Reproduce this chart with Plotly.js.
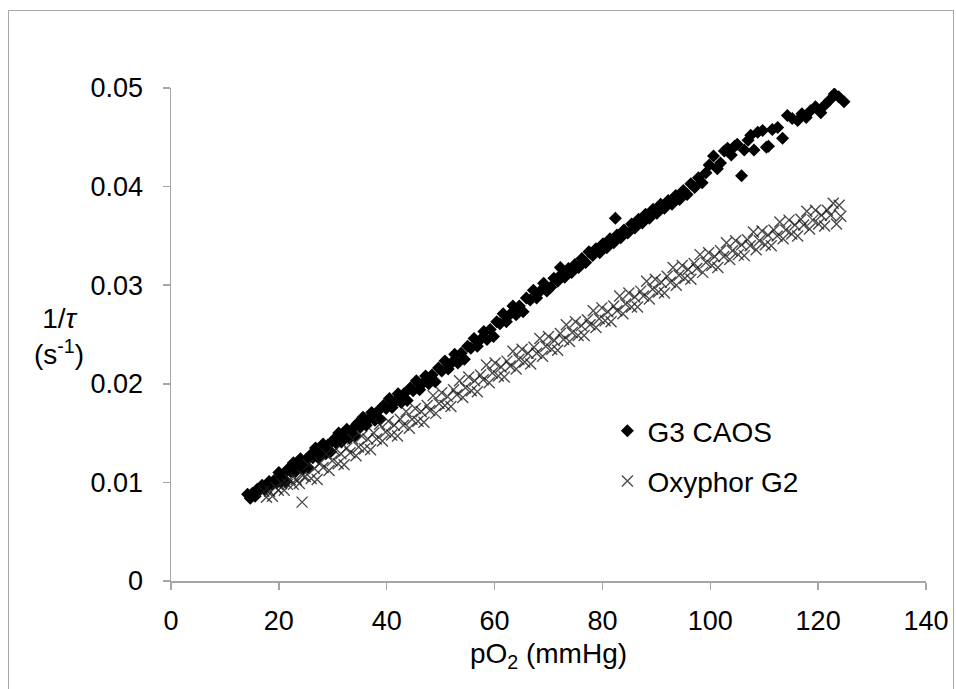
<!DOCTYPE html>
<html>
<head>
<meta charset="utf-8">
<script src="https://cdn.plot.ly/plotly-3.0.1.min.js"></script>
<style>
  html, body { margin: 0; padding: 0; background: #ffffff; overflow: hidden; }
  #chart { position: absolute; left: 0; top: 0; width: 956px; height: 689px; }
  #frame { position: absolute; left: 8px; top: 10px; width: 944px; height: 720px;
           border: 1.5px solid #a9a9a9; pointer-events: none; }
</style>
</head>
<body>
<div id="chart"></div>
<div id="frame"></div>
<script>
// ---- G3 CAOS (filled diamonds) ----
const g3X = [14.2,14.7,15.1,15.6,16.0,16.4,16.9,17.3,17.8,18.2,18.7,19.1,19.6,
  20.0,20.4,20.9,21.3,21.8,22.2,22.7,23.1,23.6,24.0,24.5,
  25.0,25.4,25.9,26.3,26.8,27.3,27.7,28.2,28.7,29.1,29.6,
  30.1,30.6,31.1,31.6,32.1,32.6,33.1,33.6,34.1,34.6,
  35.1,35.6,36.2,36.7,37.2,37.8,38.3,38.8,39.4,39.9,
  40.5,41.0,41.6,42.1,42.7,43.2,43.8,44.4,44.9,
  45.5,46.1,46.6,47.2,47.8,48.4,49.0,49.6,
  50.2,50.8,51.4,52.0,52.6,53.2,53.8,54.4,55.0,
  55.6,56.2,56.8,57.4,58.0,58.6,59.2,59.8,
  60.4,61.0,61.6,62.2,62.8,63.4,64.0,64.6,
  65.3,65.9,66.6,67.2,67.8,68.5,69.1,69.7,
  70.4,71.0,71.7,72.2,72.4,73.0,73.7,74.3,74.9,
  75.6,76.2,76.9,77.5,78.2,78.8,79.5,
  80.1,80.8,81.4,82.1,82.4,82.7,83.4,84.0,84.7,
  85.4,86.0,86.7,87.4,88.0,88.7,89.4,
  90.1,90.8,91.5,92.2,92.9,93.6,94.3,
  95.0,95.7,96.4,97.1,97.8,98.5,99.2,99.8,
  100.6,101.3,101.9,102.6,103.2,103.9,104.5,105.0,105.8,
  106.3,107.0,107.5,108.1,108.8,109.7,110.4,110.8,111.5,112.5,113.4,
  114.3,115.2,116.2,117.0,117.8,118.6,119.5,120.5,121.3,122.2,123.0,123.8,124.8];
const g3Y = [0.0088,0.0084,0.0089,0.0086,0.0093,0.0092,0.0097,0.0093,0.0097,0.0101,0.0098,0.0102,0.0100,
  0.0110,0.0100,0.0109,0.0101,0.0114,0.0111,0.0120,0.0111,0.0116,0.0124,0.0114,
  0.0123,0.0115,0.0128,0.0125,0.0135,0.0125,0.0131,0.0139,0.0129,0.0138,0.0131,
  0.0143,0.0140,0.0150,0.0141,0.0147,0.0154,0.0145,0.0154,0.0147,0.0160,
  0.0156,0.0166,0.0158,0.0164,0.0171,0.0163,0.0172,0.0164,0.0178,0.0175,
  0.0185,0.0176,0.0182,0.0190,0.0181,0.0190,0.0183,0.0196,0.0193,
  0.0203,0.0194,0.0200,0.0208,0.0200,0.0209,0.0202,0.0216,
  0.0213,0.0223,0.0215,0.0221,0.0230,0.0221,0.0231,0.0225,0.0238,
  0.0236,0.0246,0.0238,0.0245,0.0253,0.0245,0.0255,0.0248,
  0.0263,0.0261,0.0271,0.0263,0.0270,0.0279,0.0270,0.0279,
  0.0273,0.0287,0.0285,0.0295,0.0287,0.0294,0.0302,0.0294,
  0.0298,0.0307,0.0304,0.0318,0.0311,0.0308,0.0317,0.0313,0.0321,
  0.0318,0.0327,0.0323,0.0334,0.0330,0.0337,0.0333,
  0.0342,0.0338,0.0347,0.0343,0.0368,0.0351,0.0348,0.0356,0.0353,
  0.0362,0.0358,0.0367,0.0363,0.0372,0.0368,0.0377,
  0.0373,0.0382,0.0378,0.0386,0.0382,0.0391,0.0387,
  0.0396,0.0392,0.0403,0.0399,0.0409,0.0404,0.0414,0.0422,
  0.0431,0.0418,0.0424,0.0436,0.0439,0.0432,0.0441,0.0443,0.0411,
  0.0437,0.0447,0.0452,0.0437,0.0455,0.0457,0.0440,0.0441,0.0458,0.0460,0.0449,
  0.0472,0.0469,0.0467,0.0474,0.0470,0.0477,0.0481,0.0475,0.0483,0.0488,0.0494,0.0491,0.0486];

// ---- Oxyphor G2 (thin x markers) ----
const g2X = [17.2,17.7,18.3,18.8,19.4,19.9,
  20.5,21.0,21.6,22.1,22.7,23.2,23.8,24.3,24.4,24.9,
  25.5,26.0,26.6,27.1,27.7,28.2,28.8,29.3,29.9,
  30.4,31.0,31.5,32.1,32.6,33.2,33.7,34.3,34.8,
  35.4,35.9,36.5,37.0,37.6,38.1,38.7,39.2,39.8,
  40.3,40.9,41.4,42.0,42.5,43.1,43.6,44.2,44.7,
  45.3,45.8,46.4,46.9,47.5,48.0,48.6,49.1,49.7,
  50.2,50.8,51.3,51.9,52.4,53.0,53.5,54.1,54.6,
  55.2,55.7,56.3,56.8,57.4,57.9,58.5,59.0,59.6,
  60.1,60.7,61.2,61.8,62.3,62.9,63.4,64.0,64.5,
  65.1,65.6,66.2,66.7,67.3,67.8,68.4,68.9,69.5,
  70.0,70.6,71.1,71.7,72.2,72.8,73.3,73.9,74.4,
  75.0,75.5,76.1,76.6,77.2,77.7,78.3,78.8,79.4,
  79.9,80.5,81.0,81.6,82.1,82.7,83.2,83.8,84.3,84.9,
  85.4,86.0,86.5,87.1,87.6,88.2,88.7,89.3,89.8,
  90.4,90.9,91.5,92.0,92.6,93.1,93.7,94.2,94.8,
  95.3,95.9,96.4,97.0,97.5,98.1,98.6,99.2,99.7,
  100.3,100.8,101.4,101.9,102.5,103.0,103.6,104.1,104.7,
  105.2,105.8,106.3,106.9,107.4,108.0,108.5,109.1,109.6,
  110.2,110.7,111.3,111.8,112.4,112.9,113.5,114.0,114.6,
  115.1,115.7,116.2,116.8,117.3,117.9,118.4,119.0,119.5,
  120.1,120.6,121.2,121.7,122.3,122.8,123.4,123.9,124.2];
const g2Y = [0.0091,0.0085,0.0091,0.0086,0.0095,0.0092,
  0.0099,0.0092,0.0098,0.0103,0.0098,0.0103,0.0099,0.0080,0.0107,0.0106,
  0.0118,0.0104,0.0114,0.0103,0.0120,0.0115,0.0129,0.0112,0.0122,
  0.0132,0.0119,0.0129,0.0118,0.0135,0.0130,0.0144,0.0127,0.0136,
  0.0147,0.0134,0.0144,0.0133,0.0150,0.0144,0.0159,0.0142,0.0151,
  0.0162,0.0148,0.0158,0.0147,0.0164,0.0158,0.0172,0.0155,0.0164,
  0.0175,0.0162,0.0172,0.0161,0.0178,0.0173,0.0188,0.0170,0.0180,
  0.0191,0.0178,0.0187,0.0177,0.0194,0.0189,0.0203,0.0186,0.0196,
  0.0207,0.0193,0.0203,0.0192,0.0209,0.0204,0.0219,0.0201,0.0211,
  0.0221,0.0208,0.0217,0.0207,0.0223,0.0218,0.0233,0.0215,0.0225,
  0.0235,0.0222,0.0231,0.0220,0.0237,0.0231,0.0246,0.0228,0.0238,
  0.0248,0.0235,0.0244,0.0234,0.0251,0.0245,0.0260,0.0243,0.0252,
  0.0263,0.0249,0.0259,0.0249,0.0265,0.0260,0.0274,0.0257,0.0266,
  0.0277,0.0264,0.0273,0.0263,0.0279,0.0274,0.0289,0.0271,0.0281,0.0292,
  0.0278,0.0288,0.0278,0.0294,0.0289,0.0304,0.0286,0.0296,0.0306,
  0.0293,0.0303,0.0292,0.0309,0.0303,0.0318,0.0300,0.0310,0.0320,
  0.0307,0.0316,0.0306,0.0322,0.0317,0.0331,0.0313,0.0323,0.0333,
  0.0320,0.0329,0.0318,0.0335,0.0329,0.0343,0.0326,0.0335,0.0345,
  0.0331,0.0341,0.0330,0.0346,0.0340,0.0354,0.0336,0.0345,0.0355,
  0.0341,0.0351,0.0340,0.0356,0.0350,0.0364,0.0347,0.0356,0.0366,
  0.0352,0.0361,0.0350,0.0367,0.0361,0.0375,0.0357,0.0366,0.0376,
  0.0362,0.0371,0.0360,0.0376,0.0371,0.0383,0.0362,0.0381,0.0370];

const xTicks = [0, 20, 40, 60, 80, 100, 120, 140];
const yTicks = [0, 0.01, 0.02, 0.03, 0.04, 0.05];
const yTickText = ['0', '0.01', '0.02', '0.03', '0.04', '0.05'];

const FONT = 'Liberation Sans, Arial, Helvetica, sans-serif';
const AXIS_GRAY = '#a6a6a6';

const traces = [
  {
    x: g3X, y: g3Y, type: 'scatter', mode: 'markers', name: 'G3 CAOS',
    legendgroup: 'g3',
    marker: { symbol: 'diamond', size: 10, color: '#000000' }
  },
  {
    x: g2X, y: g2Y, type: 'scatter', mode: 'markers', name: 'Oxyphor G2',
    legendgroup: 'g2',
    marker: { symbol: 'x-thin-open', size: 11,
              line: { color: 'rgba(30,30,30,0.8)', width: 1.4 },
              color: 'rgba(30,30,30,0.8)' }
  }
];

const layout = {
  width: 956, height: 689,
  margin: { l: 171, r: 30, t: 88, b: 108 },
  paper_bgcolor: 'rgba(0,0,0,0)',
  plot_bgcolor: '#ffffff',
  font: { family: FONT, color: '#000000', size: 27 },
  showlegend: true,
  legend: {
    x: 0.578, y: 0.355, xanchor: 'left', yanchor: 'top',
    bgcolor: 'rgba(0,0,0,0)', borderwidth: 0,
    font: { family: FONT, size: 28, color: '#000000' },
    tracegroupgap: 11, itemwidth: 30
  },
  xaxis: {
    range: [0, 140], tickvals: xTicks, ticktext: xTicks.map(String),
    showgrid: false, zeroline: false,
    showline: true, linecolor: AXIS_GRAY, linewidth: 1.5,
    ticks: 'outside', ticklen: 7, tickwidth: 1.5, tickcolor: AXIS_GRAY,
    tickfont: { family: FONT, size: 27, color: '#000000' },
    ticklabelstandoff: 8,
    title: { text: 'pO<sub>2</sub> (mmHg)', font: { family: FONT, size: 28, color: '#000000' }, standoff: 8 }
  },
  yaxis: {
    range: [0, 0.05], tickvals: yTicks, ticktext: yTickText,
    showgrid: false, zeroline: false,
    showline: true, linecolor: AXIS_GRAY, linewidth: 1.5,
    ticks: 'outside', ticklen: 7, tickwidth: 1.5, tickcolor: AXIS_GRAY,
    tickfont: { family: FONT, size: 27, color: '#000000' },
    ticklabelstandoff: 14
  },
  annotations: [
    {
      text: '1/<i>τ</i><br>(s<sup>-1</sup>)',
      xref: 'paper', yref: 'paper', x: -0.148, y: 0.496,
      xanchor: 'center', yanchor: 'middle', showarrow: false, align: 'center',
      font: { family: FONT, size: 28, color: '#000000' }
    }
  ]
};

Plotly.newPlot('chart', traces, layout, { displayModeBar: false, staticPlot: true });
</script>
</body>
</html>
